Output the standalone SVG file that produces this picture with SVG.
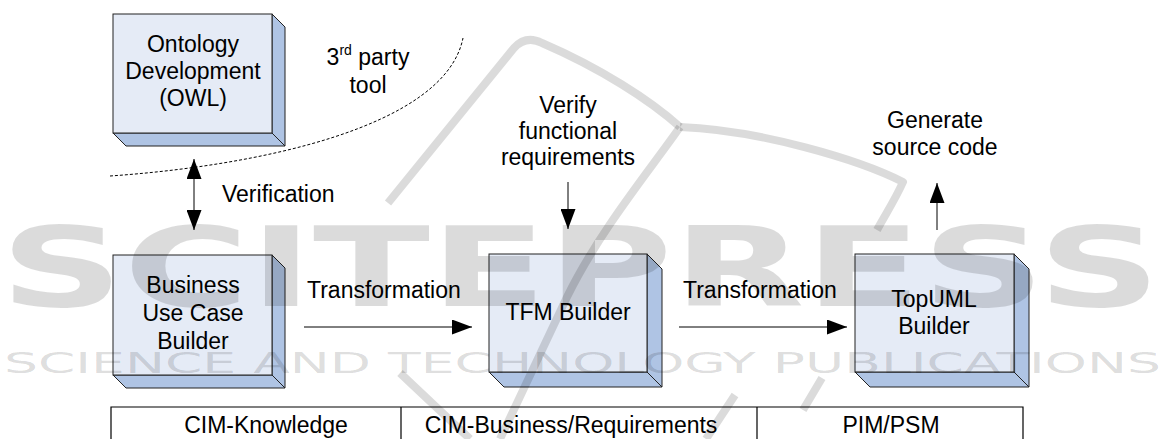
<svg xmlns="http://www.w3.org/2000/svg" width="1161" height="439" viewBox="0 0 1161 439">
  <defs>
    <marker id="head" viewBox="0 0 20 15" refX="20" refY="7.5" markerWidth="20" markerHeight="15" markerUnits="userSpaceOnUse" orient="auto-start-reverse">
      <path d="M0,0 L20,7.5 L0,15 Z" fill="#000"/>
    </marker>
  </defs>
  <style>
    text { font-family: "Liberation Sans", Arial, sans-serif; font-size: 23px; fill: #000; }
    .c { text-anchor: middle; }
    .front { fill: #e5ebf6; stroke: #222; stroke-width: 1; }
    .side { fill: #afc4e4; stroke: #222; stroke-width: 1; stroke-linejoin: round; }
    .conn { stroke: #000; stroke-width: 1; fill: none; }
    .dash { stroke: #000; stroke-width: 1; fill: none; stroke-dasharray: 3 2; }
    .grid { stroke: #000; stroke-width: 1.2; fill: none; }
    text.wm-big { font-family: "DejaVu Sans", sans-serif; font-weight: bold; font-size: 110px; fill: #000; fill-opacity: 0.14; }
    text.wm-small { font-family: "DejaVu Sans", sans-serif; font-size: 28px; fill: #000; fill-opacity: 0.14; }
    .wmline { stroke: #000; stroke-opacity: 0.14; stroke-width: 8; fill: none; stroke-linecap: butt; stroke-linejoin: round; }
  </style>

  <rect width="1161" height="439" fill="#fff"/>

  <!-- tool boundary -->
  <path class="dash" d="M110,176 C255,166 445,128 463,38"/>
  <text class="c" x="368" y="65"><tspan>3</tspan><tspan font-size="14" dy="-10">rd</tspan><tspan dy="10"> party</tspan></text>
  <text class="c" x="368" y="93">tool</text>

  <!-- nodes -->
  <g id="ontology">
    <polygon class="side" points="272,14 285,27 285,146 272,133"/>
    <polygon class="side" points="113,133 272,133 285,146 126,146"/>
    <rect class="front" x="113" y="14" width="159" height="119"/>
    <text class="c" x="193" y="52">Ontology</text>
    <text class="c" x="193" y="79">Development</text>
    <text class="c" x="193" y="106">(OWL)</text>
  </g>

  <g id="business">
    <polygon class="side" points="272,255 285,268 285,388 272,375"/>
    <polygon class="side" points="113,375 272,375 285,388 126,388"/>
    <rect class="front" x="113" y="255" width="159" height="120"/>
    <text class="c" x="193" y="293">Business</text>
    <text class="c" x="193" y="321">Use Case</text>
    <text class="c" x="193" y="349">Builder</text>
  </g>

  <g id="tfm">
    <polygon class="side" points="647,254 662,269 662,387 647,372"/>
    <polygon class="side" points="489,372 647,372 662,387 504,387"/>
    <rect class="front" x="489" y="254" width="158" height="118"/>
    <text class="c" x="568" y="320">TFM Builder</text>
  </g>

  <g id="topuml">
    <polygon class="side" points="1014,254 1029,269 1029,387 1014,372"/>
    <polygon class="side" points="855,372 1014,372 1029,387 870,387"/>
    <rect class="front" x="855" y="254" width="159" height="118"/>
    <text class="c" x="934" y="307">TopUML</text>
    <text class="c" x="934" y="334">Builder</text>
  </g>

  <!-- free labels -->
  <g id="labels">
    <text x="222" y="202">Verification</text>
    <text x="307" y="298">Transformation</text>
    <text x="683" y="298">Transformation</text>
    <text class="c" x="568" y="113">Verify</text>
    <text class="c" x="568" y="139">functional</text>
    <text class="c" x="568" y="165">requirements</text>
    <text class="c" x="935" y="128">Generate</text>
    <text class="c" x="935" y="155">source code</text>
  </g>

  <!-- connectors -->
  <g id="connectors">
    <line class="conn" x1="194" y1="159" x2="194" y2="230" marker-start="url(#head)" marker-end="url(#head)"/>
    <line class="conn" x1="304" y1="327" x2="472" y2="327" marker-end="url(#head)"/>
    <line class="conn" x1="679" y1="327" x2="847" y2="327" marker-end="url(#head)"/>
    <line class="conn" x1="568" y1="182" x2="568" y2="229" marker-end="url(#head)"/>
    <line class="conn" x1="937" y1="230" x2="937" y2="183" marker-end="url(#head)"/>
  </g>

  <!-- phase table -->
  <g id="phases">
    <path class="grid" d="M111,439 V407 H1023 V439 M401,407 V439 M757,407 V439"/>
    <text class="c" x="266" y="433">CIM-Knowledge</text>
    <text class="c" x="571" y="433">CIM-Business/Requirements</text>
    <text class="c" x="891" y="433">PIM/PSM</text>
  </g>

  <!-- publisher watermark -->
  <g id="watermark">
    <text class="wm-big" x="0" y="306" textLength="1161" lengthAdjust="spacingAndGlyphs">SCITEPRESS</text>
    <text class="wm-small" x="4" y="373" textLength="1157" lengthAdjust="spacingAndGlyphs">SCIENCE AND TECHNOLOGY PUBLICATIONS</text>
    <path class="wmline" d="M388,203 L514,48 Q526,35 542,43 C600,68 650,100 680,127"/>
    <path class="wmline" d="M680,127 C760,130 860,160 903,182 C895,200 885,215 877,230"/>
    <path class="wmline" d="M680,127 C650,170 600,230 567,297 L500,439"/>
    <path class="wmline" d="M400,373 L470,439 M706,439 L735,395 M803,410 L822,378"/>
  </g>
</svg>
